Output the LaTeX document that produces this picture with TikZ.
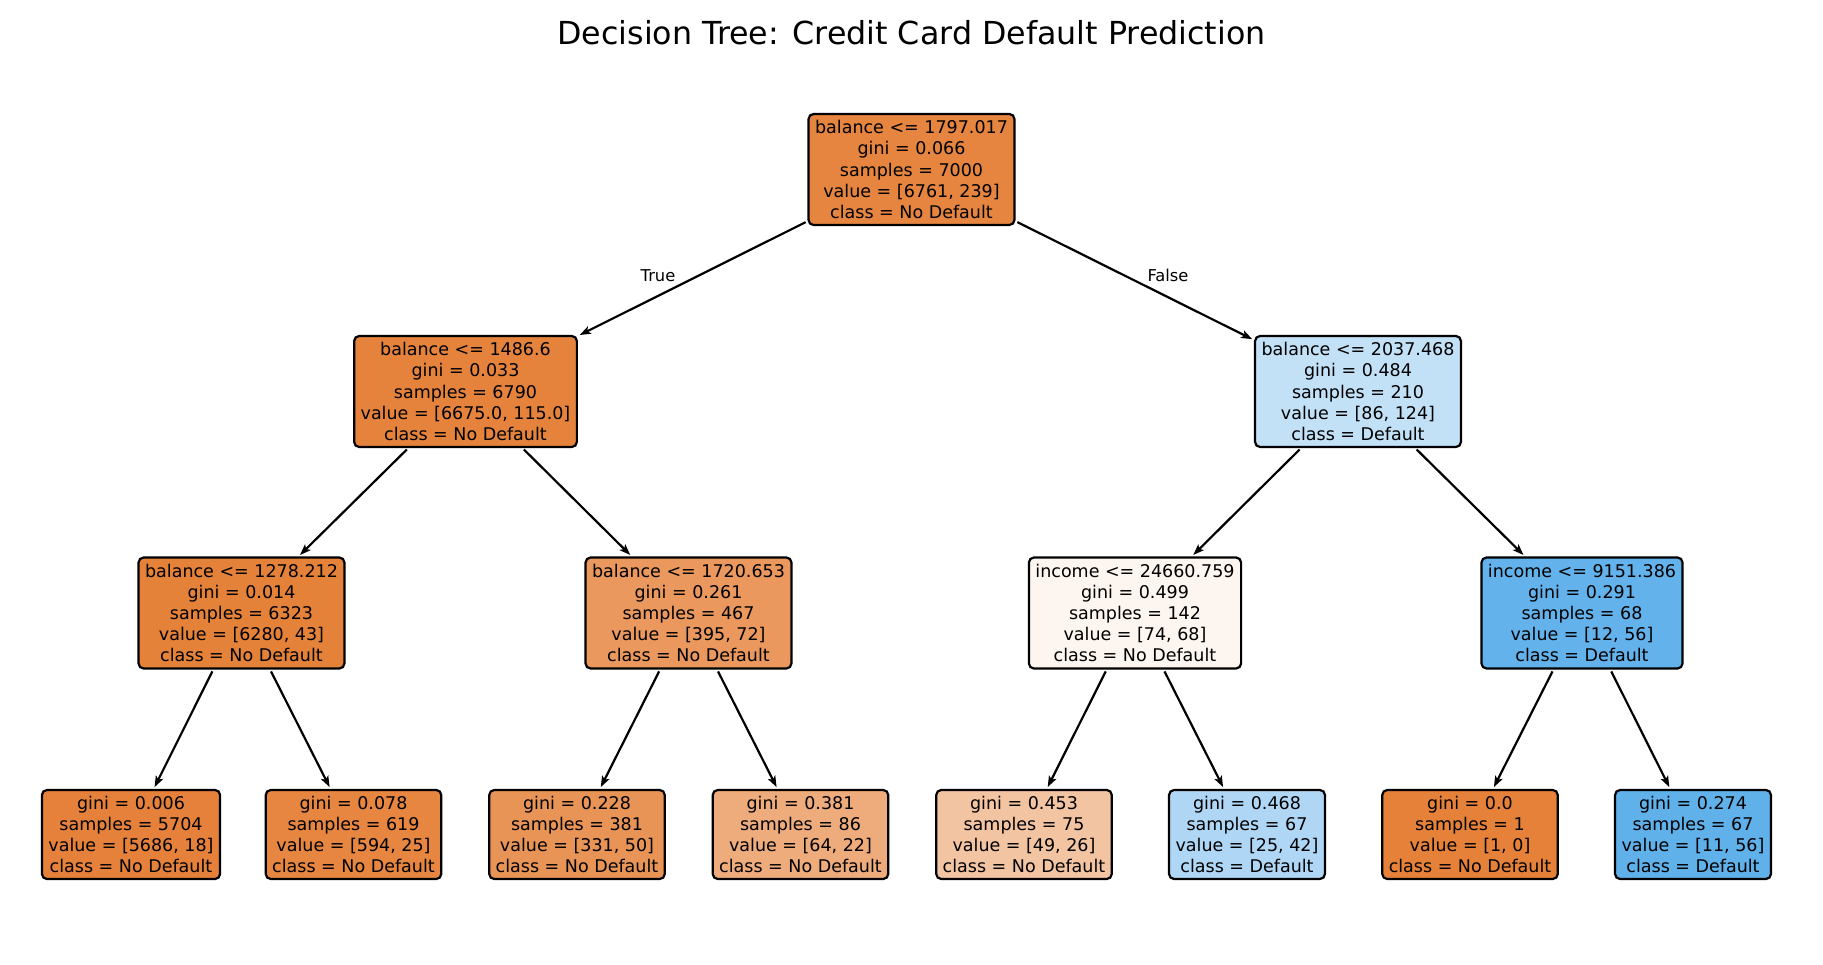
\documentclass[tikz,border=0pt]{standalone}
\usepackage{fontspec}
\setmainfont{DejaVu Sans}
\usetikzlibrary{arrows.meta}
\definecolor{c0}{RGB}{230,133,64}
\definecolor{c1}{RGB}{229,131,60}
\definecolor{c2}{RGB}{194,225,247}
\definecolor{c3}{RGB}{229,130,58}
\definecolor{c4}{RGB}{234,152,93}
\definecolor{c5}{RGB}{253,245,239}
\definecolor{c6}{RGB}{99,178,235}
\definecolor{c7}{RGB}{229,129,58}
\definecolor{c8}{RGB}{230,134,65}
\definecolor{c9}{RGB}{233,148,87}
\definecolor{c10}{RGB}{238,172,125}
\definecolor{c11}{RGB}{243,196,162}
\definecolor{c12}{RGB}{175,215,245}
\definecolor{c13}{RGB}{229,129,57}
\definecolor{c14}{RGB}{96,176,234}
\begin{document}
\begin{tikzpicture}[x=1pt,y=-1pt,
  tnode/.style={draw=black, line width=2.2pt, rounded corners=5pt, align=center,
    inner xsep=6.5pt, inner ysep=2pt,
    font=\fontsize{17.5}{21.2}\selectfont},
  inner/.style={tnode, minimum height=111pt},
  leaf/.style={tnode, minimum height=89pt},
  arr/.style={line width=2.2pt, -{Stealth[length=11pt,width=8pt,inset=2.5pt]}, shorten >=2pt, shorten <=2pt},
  lbl/.style={font=\fontsize{16.3}{19}\selectfont, inner sep=0pt}]
\useasboundingbox (0,0) rectangle (1823,965);
\node[font=\fontsize{31.7}{36}\selectfont] (title) at (911.5,33) {Decision Tree: Credit Card Default Prediction};

\node[inner, fill=c0] (root) at (911.5,169.5) {balance <= 1797.017\\gini = 0.066\\samples = 7000\\value = [6761, 239]\\class = No Default};

\node[inner, fill=c1] (a) at (465.5,391.5) {balance <= 1486.6\\gini = 0.033\\samples = 6790\\value = [6675.0, 115.0]\\class = No Default};
\node[inner, fill=c2] (b) at (1358,391.5) {balance <= 2037.468\\gini = 0.484\\samples = 210\\value = [86, 124]\\class = Default};

\node[inner, fill=c3] (aa) at (241.5,613) {balance <= 1278.212\\gini = 0.014\\samples = 6323\\value = [6280, 43]\\class = No Default};
\node[inner, fill=c4] (ab) at (688.5,613) {balance <= 1720.653\\gini = 0.261\\samples = 467\\value = [395, 72]\\class = No Default};
\node[inner, fill=c5] (ba) at (1135,613) {income <= 24660.759\\gini = 0.499\\samples = 142\\value = [74, 68]\\class = No Default};
\node[inner, fill=c6] (bb) at (1582,613) {income <= 9151.386\\gini = 0.291\\samples = 68\\value = [12, 56]\\class = Default};

\node[leaf, fill=c7] (aaa) at (131,834.5) {gini = 0.006\\samples = 5704\\value = [5686, 18]\\class = No Default};
\node[leaf, fill=c8] (aab) at (353.5,834.5) {gini = 0.078\\samples = 619\\value = [594, 25]\\class = No Default};
\node[leaf, fill=c9] (aba) at (577,834.5) {gini = 0.228\\samples = 381\\value = [331, 50]\\class = No Default};
\node[leaf, fill=c10] (abb) at (800.5,834.5) {gini = 0.381\\samples = 86\\value = [64, 22]\\class = No Default};
\node[leaf, fill=c11] (baa) at (1024,834.5) {gini = 0.453\\samples = 75\\value = [49, 26]\\class = No Default};
\node[leaf, fill=c12] (bab) at (1247,834.5) {gini = 0.468\\samples = 67\\value = [25, 42]\\class = Default};
\node[leaf, fill=c13] (bba) at (1470,834.5) {gini = 0.0\\samples = 1\\value = [1, 0]\\class = No Default};
\node[leaf, fill=c14] (bbb) at (1693,834.5) {gini = 0.274\\samples = 67\\value = [11, 56]\\class = Default};

\draw[arr] (root) -- (a);
\draw[arr] (root) -- (b);
\draw[arr] (a) -- (aa);
\draw[arr] (a) -- (ab);
\draw[arr] (b) -- (ba);
\draw[arr] (b) -- (bb);
\draw[arr] (aa) -- (aaa);
\draw[arr] (aa) -- (aab);
\draw[arr] (ab) -- (aba);
\draw[arr] (ab) -- (abb);
\draw[arr] (ba) -- (baa);
\draw[arr] (ba) -- (bab);
\draw[arr] (bb) -- (bba);
\draw[arr] (bb) -- (bbb);

\node[lbl] (tl) at (658,275.5) {True};
\node[lbl] (fl) at (1168,275.5) {False};
\end{tikzpicture}
\end{document}
